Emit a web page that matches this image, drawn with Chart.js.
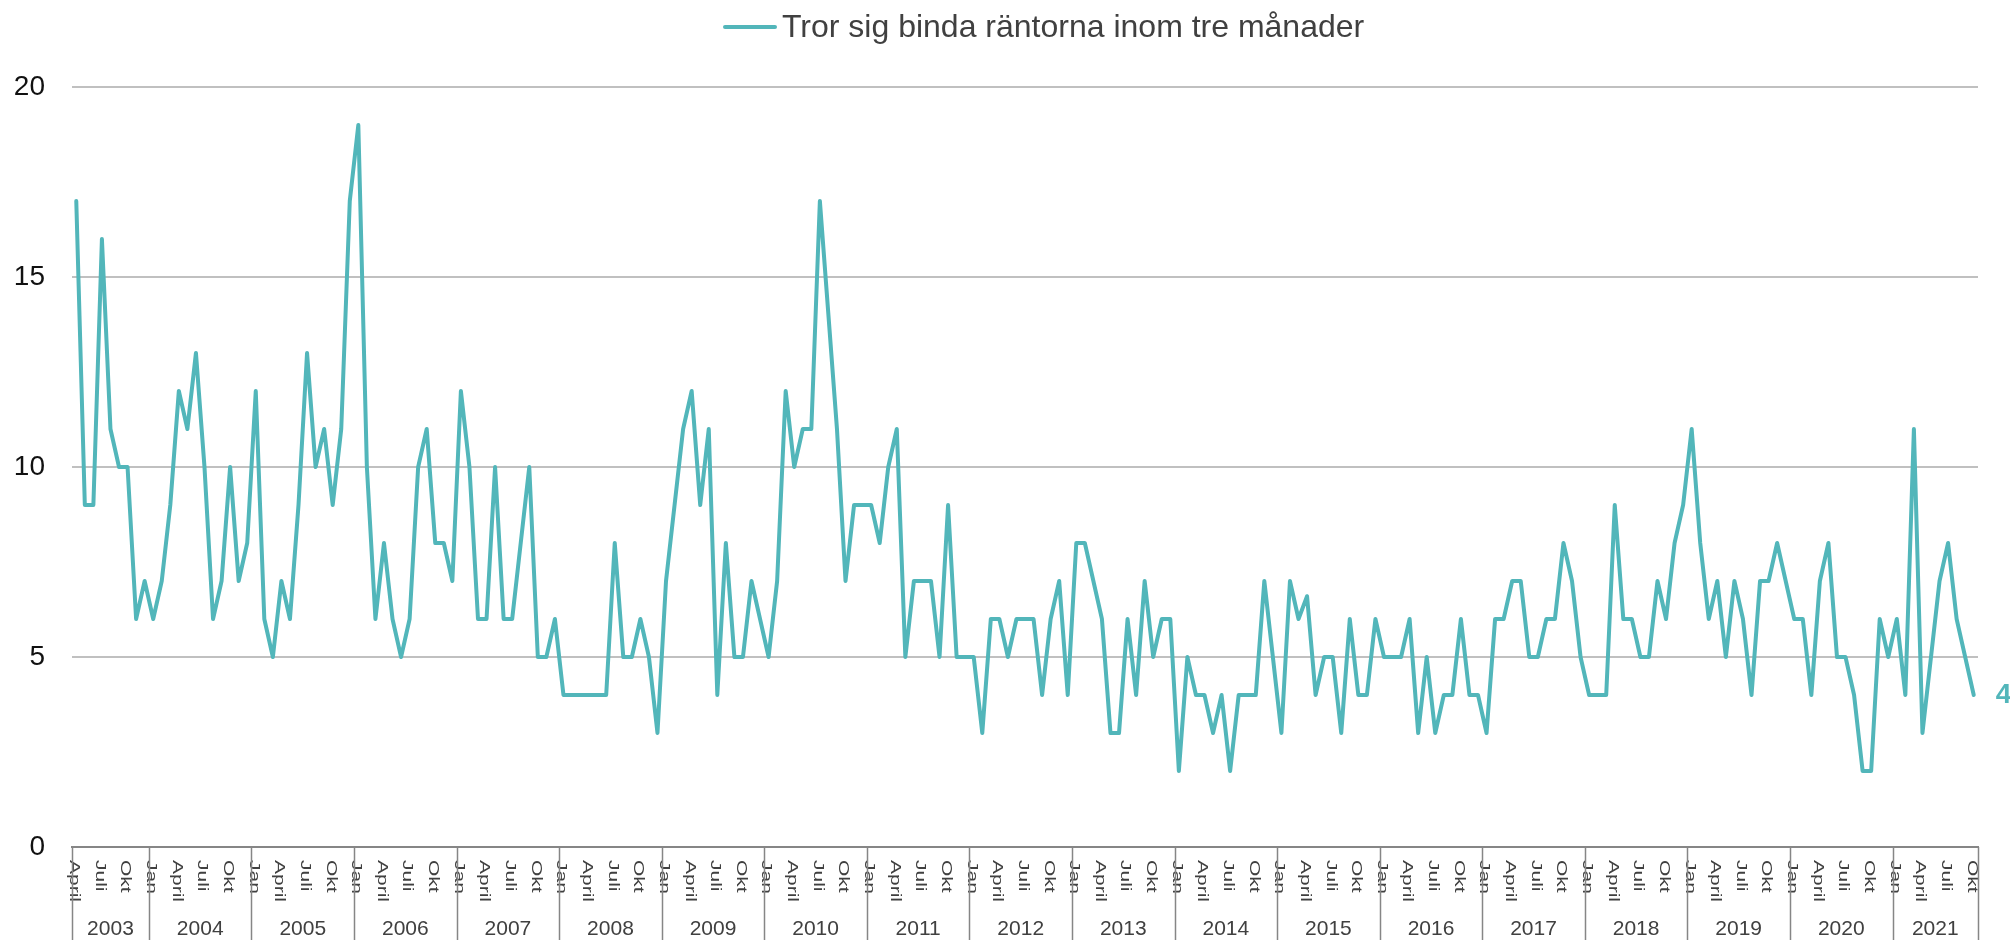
<!DOCTYPE html>
<html>
<head>
<meta charset="utf-8">
<script src="https://cdn.jsdelivr.net/npm/chart.js@4"></script>
<style>
  body { margin: 0; background: #fff; }
  canvas { display: block; }
</style>
</head>
<body>
<canvas id="rateChart" width="2010" height="940"></canvas>
<script>
const years = [2003, 2004, 2005, 2006, 2007, 2008, 2009, 2010, 2011, 2012,
  2013, 2014, 2015, 2016, 2017, 2018, 2019, 2020, 2021]
const monthNames = ['Jan', 'Feb', 'Mars', 'April', 'Maj', 'Juni', 'Juli', 'Aug', 'Sep', 'Okt', 'Nov', 'Dec']
const shownMonths = ['Jan', 'April', 'Juli', 'Okt']
const startMonth = 3 // april 2003
const endMonth = 9   // okt 2021
const seriesLabel = 'Tror sig binda räntorna inom tre månader'

// andel (%) per månad, april 2003 - oktober 2021
const values = [
  17, 9, 9, 16, 11, 10, 10, 6, 7,             // 2003
  6, 7, 9, 12, 11, 13, 10, 6, 7, 10, 7, 8,    // 2004
  12, 6, 5, 7, 6, 9, 13, 10, 11, 9, 11, 17,   // 2005
  19, 10, 6, 8, 6, 5, 6, 10, 11, 8, 8, 7,     // 2006
  12, 10, 6, 6, 10, 6, 6, 8, 10, 5, 5, 6,     // 2007
  4, 4, 4, 4, 4, 4, 8, 5, 5, 6, 5, 3,         // 2008
  7, 9, 11, 12, 9, 11, 4, 8, 5, 5, 7, 6,      // 2009
  5, 7, 12, 10, 11, 11, 17, 14, 11, 7, 9, 9,  // 2010
  9, 8, 10, 11, 5, 7, 7, 7, 5, 9, 5, 5,       // 2011
  5, 3, 6, 6, 5, 6, 6, 6, 4, 6, 7, 4,         // 2012
  8, 8, 7, 6, 3, 3, 6, 4, 7, 5, 6, 6,         // 2013
  2, 5, 4, 4, 3, 4, 2, 4, 4, 4, 7, 5,         // 2014
  3, 7, 6, 6.6, 4, 5, 5, 3, 6, 4, 4, 6,       // 2015
  5, 5, 5, 6, 3, 5, 3, 4, 4, 6, 4, 4,         // 2016
  3, 6, 6, 7, 7, 5, 5, 6, 6, 8, 7, 5,         // 2017
  4, 4, 4, 9, 6, 6, 5, 5, 7, 6, 8, 9,         // 2018
  11, 8, 6, 7, 5, 7, 6, 4, 7, 7, 8, 7,        // 2019
  6, 6, 4, 7, 8, 5, 5, 4, 2, 2, 6, 5,         // 2020
  6, 4, 11, 3, 5, 7, 8, 6, 5, 4               // 2021
]

const lineColor = 'rgb(82, 182, 186)'
const textColor = '#404040'
const axisColor = '#868686'
const fontFamily = '"Liberation Sans", Arial, sans-serif'

const categories = []
years.forEach((year, yi) => {
  monthNames.forEach((month, mi) => {
    if (yi === 0 && mi < startMonth) return
    if (yi === years.length - 1 && mi > endMonth) return
    categories.push({ year, month })
  })
})
const labels = categories.map(c => `${c.month} ${c.year}`)

// legend, two-level month/year axis and end label
const axisLabels = {
  id: 'axisLabels',
  afterDraw(chart) {
    const { ctx, chartArea, scales: { x } } = chart
    const base = chartArea.bottom
    const half = (x.getPixelForValue(1) - x.getPixelForValue(0)) / 2
    const edgeX = i => x.getPixelForValue(i) - half
    ctx.save()

    // legend
    const legendY = 27
    ctx.strokeStyle = lineColor
    ctx.lineWidth = 4
    ctx.lineCap = 'round'
    ctx.beginPath()
    ctx.moveTo(725, legendY)
    ctx.lineTo(775, legendY)
    ctx.stroke()
    ctx.fillStyle = textColor
    ctx.font = `32px ${fontFamily}`
    ctx.textAlign = 'left'
    ctx.textBaseline = 'middle'
    ctx.fillText(seriesLabel, 782, legendY + 1)

    // month labels, rotated clockwise
    ctx.font = `14px ${fontFamily}`
    categories.forEach((c, i) => {
      if (!shownMonths.includes(c.month)) return
      ctx.save()
      ctx.translate(edgeX(i) + 2, base + 13)
      ctx.rotate(Math.PI / 2)
      ctx.scale(1.5, 1)
      ctx.fillText(c.month, 0, 0)
      ctx.restore()
    })

    // year separators
    const edges = [0]
    categories.forEach((c, i) => {
      if (i > 0 && c.month === 'Jan') edges.push(i)
    })
    edges.push(categories.length)
    ctx.strokeStyle = axisColor
    ctx.lineWidth = 1.5
    ctx.lineCap = 'butt'
    edges.forEach(i => {
      const px = Math.round(edgeX(i)) + 0.5
      ctx.beginPath()
      ctx.moveTo(px, base)
      ctx.lineTo(px, chart.height)
      ctx.stroke()
    })

    // year labels
    ctx.font = `21px ${fontFamily}`
    ctx.textAlign = 'center'
    for (let k = 0; k < edges.length - 1; k++) {
      const mid = (edgeX(edges[k]) + edgeX(edges[k + 1])) / 2
      ctx.fillText(String(categories[edges[k]].year), mid, base + 82)
    }

    // value label on last point
    const meta = chart.getDatasetMeta(0)
    const last = meta.data[meta.data.length - 1]
    ctx.fillStyle = lineColor
    ctx.font = `bold 28px ${fontFamily}`
    ctx.textAlign = 'left'
    ctx.fillText(String(values[values.length - 1]), last.x + 22, last.y)

    ctx.restore()
  }
}

new Chart(document.getElementById('rateChart'), {
  type: 'line',
  data: {
    labels,
    datasets: [{
      label: seriesLabel,
      data: values,
      borderColor: lineColor,
      backgroundColor: lineColor,
      borderWidth: 4,
      borderJoinStyle: 'round',
      borderCapStyle: 'round',
      pointRadius: 0,
      tension: 0,
    }]
  },
  options: {
    responsive: false,
    animation: false,
    layout: {
      padding: { top: 87, right: 32, bottom: 0, left: 0 }
    },
    plugins: {
      legend: { display: false },
      tooltip: { enabled: false },
    },
    scales: {
      x: {
        type: 'category',
        offset: true,
        grid: { display: false },
        border: { display: true, color: axisColor, width: 2 },
        ticks: { display: false },
        afterFit: s => { s.height = 93 },
      },
      y: {
        min: 0,
        max: 20,
        ticks: {
          stepSize: 5,
          padding: 27,
          color: '#111',
          font: { family: fontFamily, size: 28 },
        },
        grid: { color: '#c0c0c0', lineWidth: 2, drawTicks: false },
        border: { display: false },
        afterFit: s => { s.width = 72 },
      }
    }
  },
  plugins: [axisLabels]
})
</script>
</body>
</html>
